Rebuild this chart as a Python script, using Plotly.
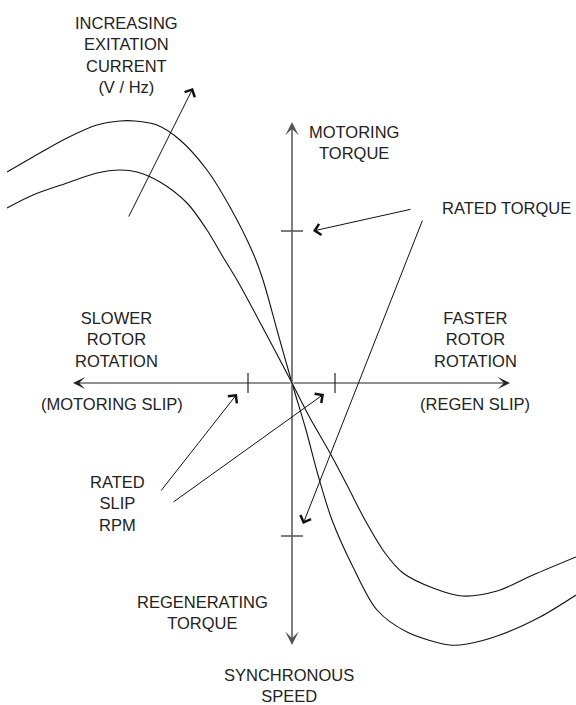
import plotly.graph_objects as go

# Curvas par-deslizamiento (origen = velocidad sincrona, par nulo)
# curva exterior: mayor excitacion (V/Hz)
outer_slip = [-285, -259, -225, -195, -172, -157, -135, -112, -85, -62, -39, -29, -15,
              0, 14, 26, 40, 61, 85, 115, 158, 175, 208, 248, 284]
outer_torque = [211, 226, 245, 258, 262, 262, 258, 243, 213, 176, 130, 103, 53,
                0, -47, -92, -137, -184, -227, -249, -262, -261, -252, -234, -212]
# curva interior: menor excitacion
inner_slip = [-285, -259, -225, -195, -172, -155, -132, -105, -85, -69, -55, -29,
              0, 18, 38, 56, 73, 93, 111, 141, 170, 205, 241, 284]
inner_torque = [175, 188, 200, 210, 213, 211, 201, 180, 153, 126, 103, 55,
                0, -35, -70, -104, -137, -170, -190, -205, -213, -208, -192, -174]

rated_torque = [152, -153]     # marcas de par nominal (motor / regeneracion)
rated_slip = [-44, 43]         # marcas de deslizamiento nominal
axis_torque = [261, -262]      # extremos del eje vertical
axis_slip = [-219, 218]        # extremos del eje horizontal

TXT = "#222222"
LINE = "#111111"
FONT = dict(family="Liberation Sans, Arial, sans-serif", size=16.5, color=TXT)
TICK = 11

fig = go.Figure()

for xs, ys in ((outer_slip, outer_torque), (inner_slip, inner_torque)):
    fig.add_trace(go.Scatter(x=xs, y=ys, mode="lines",
                             line=dict(color=LINE, width=1.1, shape="spline", smoothing=0.9),
                             hoverinfo="skip", showlegend=False))

# marcas sobre los ejes
for t in rated_torque:
    fig.add_trace(go.Scatter(x=[-TICK, TICK], y=[t, t], mode="lines",
                             line=dict(color=LINE, width=1.1), hoverinfo="skip",
                             showlegend=False))
for s in rated_slip:
    fig.add_trace(go.Scatter(x=[s, s], y=[-10, 10], mode="lines",
                             line=dict(color=LINE, width=1.1), hoverinfo="skip",
                             showlegend=False))


def arrow(x0, y0, x1, y1, head=4, color=LINE, width=1.0, size=2.2):
    fig.add_annotation(x=x1, y=y1, ax=x0, ay=y0, xref="x", yref="y",
                       axref="x", ayref="y", text="", showarrow=True,
                       arrowhead=head, arrowsize=size, arrowwidth=width,
                       arrowcolor=color, standoff=0, startstandoff=0)


def label(x, y, s):
    fig.add_annotation(x=x, y=y, xref="x", yref="y", text=s, showarrow=False,
                       font=FONT, align="center", xanchor="center", yanchor="middle")


# ejes con flechas
for t in axis_torque:
    arrow(0, 0, 0, t, head=3, color="#555555", width=1.5, size=1.5)
for s in axis_slip:
    arrow(0, 0, s, 0, head=3, color="#222222", width=1.2, size=1.7)

# flechas explicativas
arrow(-164, 165, -99, 295)                               # excitacion creciente
arrow(120, 174, TICK + 10, rated_torque[0])              # par nominal (motor)
arrow(131, 164, 11, rated_torque[1] + 12)                # par nominal (regen)
arrow(-132, -109, rated_slip[0] - 11, -11)               # deslizamiento nominal
arrow(-120, -120, rated_slip[1] - 11, -11)

label(-166, 328, "INCREASING<br>EXITATION<br>CURRENT<br>(V / Hz)")
label(62, 241, "MOTORING<br>TORQUE")
label(214, 175, "RATED TORQUE")
label(-176, 44, "SLOWER<br>ROTOR<br>ROTATION")
label(-180, -21, "(MOTORING SLIP)")
label(183, 44, "FASTER<br>ROTOR<br>ROTATION")
label(183, -21, "(REGEN SLIP)")
label(-175, -120, "RATED<br>SLIP<br>RPM")
label(-90, -229, "REGENERATING<br>TORQUE")
label(-3, -302, "SYNCHRONOUS<br>SPEED")

fig.update_xaxes(range=[-292, 284], visible=False, fixedrange=True)
fig.update_yaxes(range=[-322, 383], visible=False, fixedrange=True)
fig.update_layout(width=576, height=705, margin=dict(l=0, r=0, t=0, b=0),
                  paper_bgcolor="white", plot_bgcolor="white", showlegend=False)

# sin margen del body para que la figura ocupe la ventana entera
fig.write_html("out.html", post_script="document.body.style.margin='0';",
               config={"displayModeBar": False})
